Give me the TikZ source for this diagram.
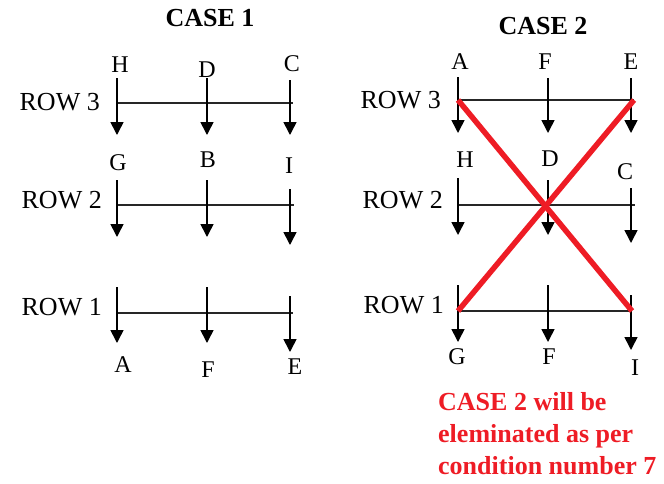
\documentclass[tikz,border=0pt]{standalone}
\usepackage{fontspec}
\setmainfont{Liberation Serif}
\usetikzlibrary{arrows.meta,positioning}
\usepackage{xcolor}
\definecolor{xred}{HTML}{EE1C25}
\tikzset{
	lbl/.style={font=\fontsize{24}{26}\selectfont,inner sep=0pt},
	rowlbl/.style={font=\fontsize{26}{28}\selectfont,inner sep=0pt,anchor=east},
	hd/.style={font=\bfseries\fontsize{26}{28}\selectfont,inner sep=0pt},
	bar/.style={line width=2.4pt,black!85},
	arr/.style={-{Triangle[length=13pt,width=13pt]},line width=1.6pt},
	cross/.style={line width=5.5pt,xred}
}

\begin{document}
\begin{tikzpicture}[x=1pt,y=-1pt]
	\useasboundingbox (0,0) rectangle (664,483);
	\node[hd] (case1) at (210,18) {CASE 1};
	\node[hd] (case2) at (543,26) {CASE 2};
	% rows: label and bar
	\foreach \n/\t/\x/\y/\xa/\xb/\yb in {p3/ROW 3/100/102/117/293/103,p2/ROW 2/102/200/117/294/205,p1/ROW 1/102/307/117/293/313,q3/ROW 3/441/100/458/634/100,q2/ROW 2/443/200/458/635/205,q1/ROW 1/444/305/458/632/311}{
		\node[rowlbl] (\n) at (\x,\y) {\t};
		\coordinate (w\n) at (\xa,\yb); \coordinate (e\n) at (\xb,\yb);
		\draw[bar] (w\n) -- (e\n);
	}
	% arrows and letters
	\foreach \n/\t/\x/\ya/\yb/\lx/\ly in {p3a/H/117/78/135/120/65,p3b/D/207/78/135/207/70,p3c/C/290/80/135/292/64,
		p2a/G/117/180/237/118/163,p2b/B/207/180/237/208/160,p2c/I/290/189/245/289/166,
		p1a/A/117/287/343/123/365,p1b/F/207/287/343/208/370,p1c/E/290/296/352/295/367,
		q3a/A/458/77/133/460/62,q3b/F/548/78/133/545/62,q3c/E/631/78/133/631/62,
		q2a/H/458/178/235/465/160,q2b/D/548/180/235/550/159,q2c/C/631/188/243/625/172,
		q1a/G/458/285/342/457/357,q1b/F/548/285/342/549/357,q1c/I/631/295/350/635/368}{
		\coordinate (t\n) at (\x,\ya); \coordinate (h\n) at (\x,\yb);
		\draw[arr] (t\n) -- (h\n);
		\node[lbl] (\n) at (\lx,\ly) {\t};
	}
	\draw[cross] (wq3) -- (eq1); \draw[cross] (eq3) -- (wq1);
	\node[hd,xred,align=left,anchor=north west,font=\bfseries\fontsize{26}{32}\selectfont] (note) at (438,392) {CASE 2 will be\\eleminated as per\\condition number 7};
\end{tikzpicture}
\end{document}
